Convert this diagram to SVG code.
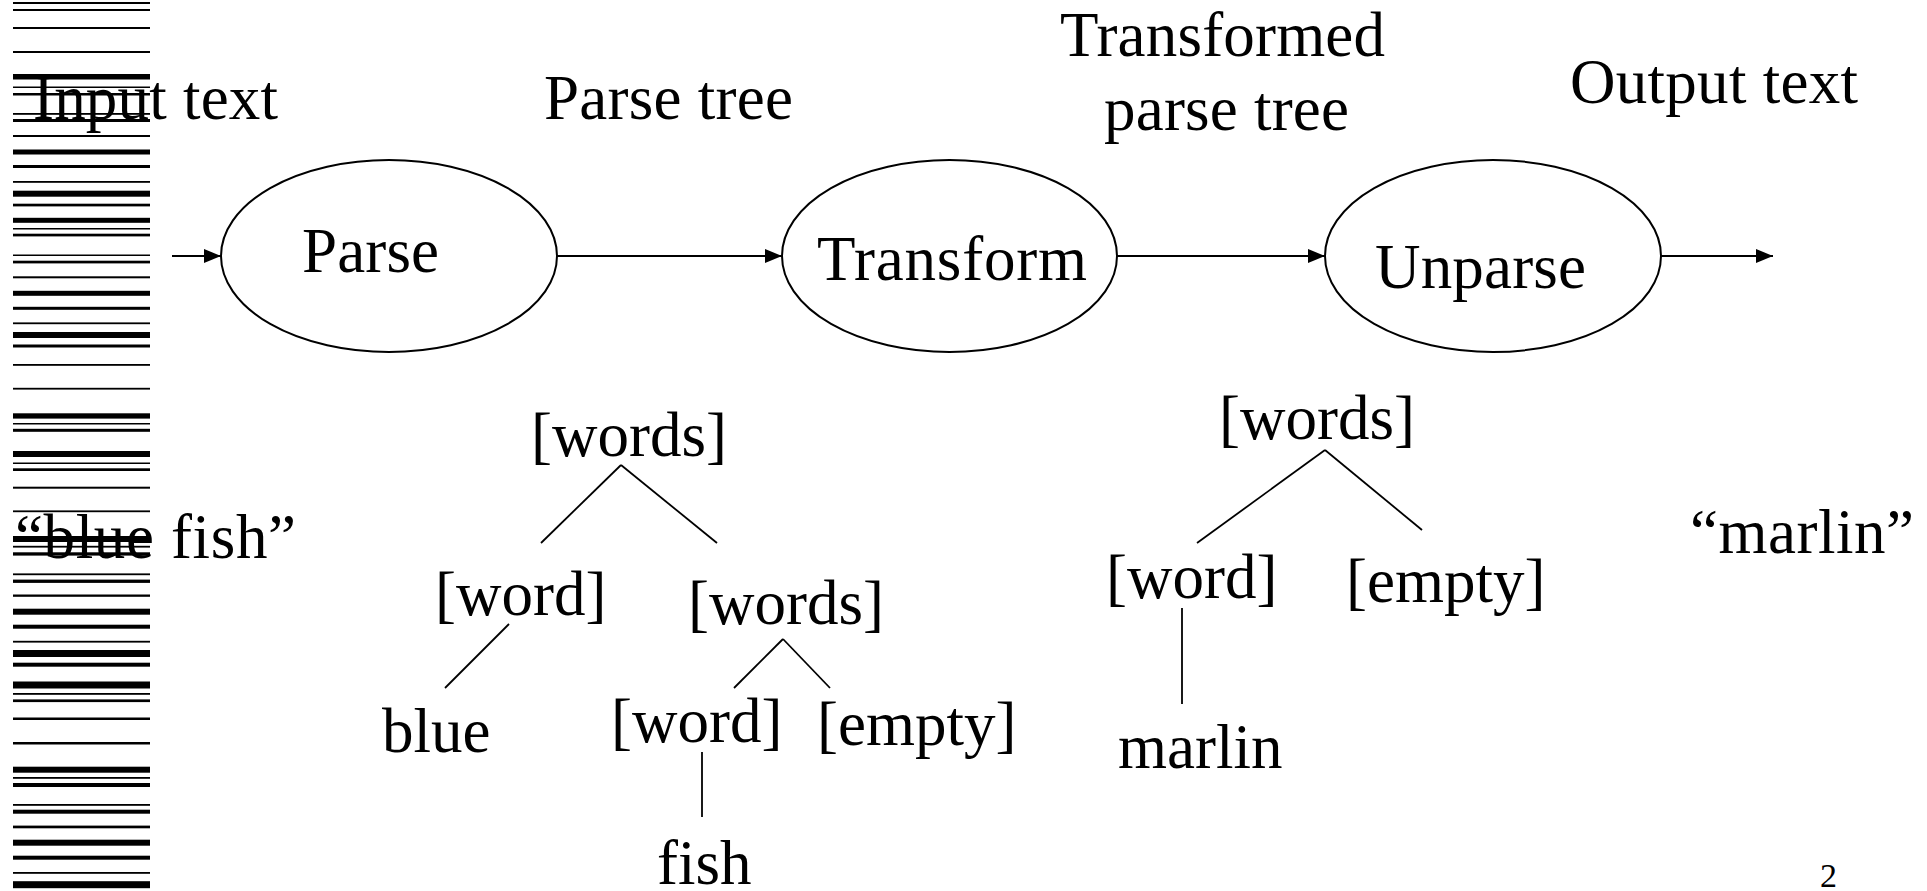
<svg xmlns="http://www.w3.org/2000/svg" width="1927" height="891" viewBox="0 0 1927 891">
<style>
  text { font-family: "Liberation Serif", "Times New Roman", serif; font-size: 63px; fill: #000; }
  .node ellipse { fill: none; stroke: #000; stroke-width: 2; }
  .conn line { stroke: #000; stroke-width: 1.8; fill: none; }
  .bars rect { fill: #000; }
</style>
<defs>
  <marker id="arrow" markerUnits="userSpaceOnUse" markerWidth="18" markerHeight="14" refX="17" refY="7" orient="auto">
    <path d="M0,0 L17,7 L0,14 Z" fill="#000"/>
  </marker>
</defs>
<rect width="1927" height="891" fill="#fff"/>

<g id="barcode" class="bars">
  <rect x="13" y="2" width="137" height="2"/>
  <rect x="13" y="9" width="137" height="2"/>
  <rect x="13" y="27" width="137" height="2"/>
  <rect x="13" y="51" width="137" height="2"/>
  <rect x="13" y="74" width="137" height="5.5"/>
  <rect x="13" y="86.5" width="137" height="1.5"/>
  <rect x="13" y="93" width="137" height="2.5"/>
  <rect x="13" y="113" width="137" height="1.8"/>
  <rect x="13" y="119" width="137" height="3"/>
  <rect x="13" y="135" width="137" height="2"/>
  <rect x="13" y="149.5" width="137" height="5"/>
  <rect x="13" y="165" width="137" height="3"/>
  <rect x="13" y="181" width="137" height="1.8"/>
  <rect x="13" y="190.7" width="137" height="6"/>
  <rect x="13" y="203.7" width="137" height="2.7"/>
  <rect x="13" y="217.8" width="137" height="5"/>
  <rect x="13" y="228" width="137" height="1.5"/>
  <rect x="13" y="233.7" width="137" height="2.7"/>
  <rect x="13" y="254.5" width="137" height="1.5"/>
  <rect x="13" y="260.7" width="137" height="2.7"/>
  <rect x="13" y="276.3" width="137" height="2"/>
  <rect x="13" y="290.8" width="137" height="5"/>
  <rect x="13" y="306.8" width="137" height="3"/>
  <rect x="13" y="322.4" width="137" height="1.8"/>
  <rect x="13" y="332" width="137" height="6"/>
  <rect x="13" y="344.5" width="137" height="3"/>
  <rect x="13" y="364" width="137" height="1.8"/>
  <rect x="13" y="387.8" width="137" height="1.8"/>
  <rect x="13" y="413.3" width="137" height="5.3"/>
  <rect x="13" y="423" width="137" height="1.5"/>
  <rect x="13" y="428.8" width="137" height="3"/>
  <rect x="13" y="451" width="137" height="6"/>
  <rect x="13" y="462.5" width="137" height="1.5"/>
  <rect x="13" y="468.3" width="137" height="2.7"/>
  <rect x="13" y="486.7" width="137" height="2"/>
  <rect x="13" y="510.4" width="137" height="1.8"/>
  <rect x="13" y="536" width="137" height="6"/>
  <rect x="13" y="545.8" width="137" height="1.8"/>
  <rect x="13" y="552.3" width="137" height="3.3"/>
  <rect x="13" y="573.4" width="137" height="1.8"/>
  <rect x="13" y="579.6" width="137" height="3.3"/>
  <rect x="13" y="594.5" width="137" height="2.3"/>
  <rect x="13" y="608.7" width="137" height="6"/>
  <rect x="13" y="624.7" width="137" height="4"/>
  <rect x="13" y="640.8" width="137" height="1.8"/>
  <rect x="13" y="650" width="137" height="7"/>
  <rect x="13" y="662.7" width="137" height="4"/>
  <rect x="13" y="681.5" width="137" height="7"/>
  <rect x="13" y="693" width="137" height="1.8"/>
  <rect x="13" y="699.4" width="137" height="2.7"/>
  <rect x="13" y="717.5" width="137" height="2.5"/>
  <rect x="13" y="742" width="137" height="2.5"/>
  <rect x="13" y="766.7" width="137" height="6"/>
  <rect x="13" y="777" width="137" height="1.8"/>
  <rect x="13" y="783" width="137" height="4"/>
  <rect x="13" y="804" width="137" height="1.8"/>
  <rect x="13" y="809.7" width="137" height="4"/>
  <rect x="13" y="825.6" width="137" height="2.7"/>
  <rect x="13" y="839.7" width="137" height="6"/>
  <rect x="13" y="855.7" width="137" height="4"/>
  <rect x="13" y="872" width="137" height="1.8"/>
  <rect x="13" y="881.2" width="137" height="7"/>
</g>

<g id="labels">
  <text x="33" y="119" textLength="245" lengthAdjust="spacing">Input text</text>
  <text x="544" y="119" textLength="249" lengthAdjust="spacing">Parse tree</text>
  <text x="1060" y="56" textLength="325" lengthAdjust="spacing">Transformed</text>
  <text x="1104" y="130" textLength="245" lengthAdjust="spacing">parse tree</text>
  <text x="1570" y="103" textLength="288" lengthAdjust="spacing">Output text</text>
  <text x="15" y="558" textLength="281" lengthAdjust="spacing">“blue fish”</text>
  <text x="1690" y="553" textLength="224" lengthAdjust="spacing">“marlin”</text>
  <text x="1820" y="887" style="font-size:34px">2</text>
</g>

<g id="connectors" class="conn">
  <line x1="172" y1="256" x2="221" y2="256" marker-end="url(#arrow)"/>
  <line x1="557" y1="256" x2="782" y2="256" marker-end="url(#arrow)"/>
  <line x1="1117" y1="256" x2="1325" y2="256" marker-end="url(#arrow)"/>
  <line x1="1661" y1="256" x2="1773" y2="256" marker-end="url(#arrow)"/>
  <line x1="621" y1="465" x2="541" y2="543"/>
  <line x1="621" y1="465" x2="717" y2="543"/>
  <line x1="509" y1="624" x2="445" y2="688"/>
  <line x1="783" y1="639" x2="734" y2="688"/>
  <line x1="783" y1="639" x2="830" y2="688"/>
  <line x1="702" y1="752" x2="702" y2="817"/>
  <line x1="1325" y1="450" x2="1197" y2="543"/>
  <line x1="1325" y1="450" x2="1422" y2="530"/>
  <line x1="1182" y1="608" x2="1182" y2="704"/>
</g>

<g id="node-parse" class="node">
  <ellipse cx="389" cy="256" rx="168" ry="96"/>
  <text x="302" y="272" textLength="137" lengthAdjust="spacing">Parse</text>
</g>
<g id="node-transform" class="node">
  <ellipse cx="949.5" cy="256" rx="167.5" ry="96"/>
  <text x="817" y="280" textLength="270" lengthAdjust="spacing">Transform</text>
</g>
<g id="node-unparse" class="node">
  <ellipse cx="1493" cy="256" rx="168" ry="96"/>
  <text x="1375" y="288" textLength="211" lengthAdjust="spacing">Unparse</text>
</g>

<g id="tree1-words"><text x="531" y="456">[words]</text></g>
<g id="tree1-word"><text x="435" y="615">[word]</text></g>
<g id="tree1-words2"><text x="688" y="624">[words]</text></g>
<g id="tree1-blue"><text x="382" y="752">blue</text></g>
<g id="tree1-word2"><text x="611" y="742">[word]</text></g>
<g id="tree1-empty"><text x="817" y="745">[empty]</text></g>
<g id="tree1-fish"><text x="657" y="884">fish</text></g>

<g id="tree2-words"><text x="1219" y="439">[words]</text></g>
<g id="tree2-word"><text x="1106" y="598">[word]</text></g>
<g id="tree2-empty"><text x="1346" y="602">[empty]</text></g>
<g id="tree2-marlin"><text x="1118" y="768">marlin</text></g>
</svg>
